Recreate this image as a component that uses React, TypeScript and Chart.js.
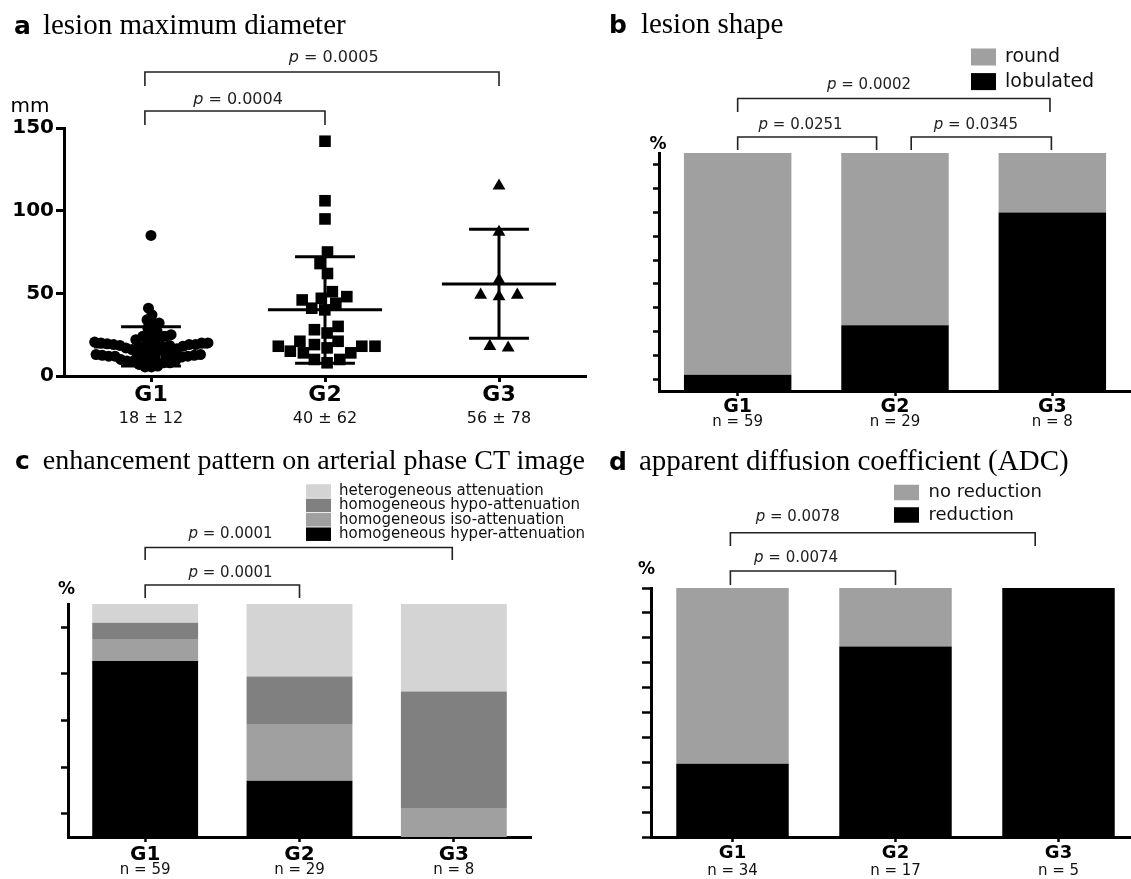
import React, { useEffect, useRef } from 'react';
import { Chart, registerables } from 'chart.js';

Chart.register(...registerables);

const SANS = '"DejaVu Sans", "Liberation Sans", sans-serif';
const SERIF = '"Liberation Serif", "DejaVu Serif", serif';

// ---------------- data ----------------
const groupLabels = ['G1', 'G2', 'G3'];

// (a) lesion maximum diameter (mm)
const diameterG1 = [85, 41, 37, 34, 32, 32, 29, 27, 25, 25, 24, 24, 22, 22, 21, 20.5,
  20, 20, 20, 19.5, 19.5, 19, 19, 19, 18.5, 18.5, 18, 18,
  17.5, 17, 16.5, 16.5, 16, 15.5, 15,
  13.5, 13, 13, 13, 12.5, 12.5, 12.5, 12, 12, 12, 11.5, 11.5, 11,
  10, 10, 9.5, 9, 9, 8, 8, 7, 6, 5.5, 5.5];
const diameterG2 = [142, 106, 95, 75, 68, 62, 51, 48, 47, 46, 44, 41, 40, 30, 28, 26,
  21, 21, 19, 18, 18, 18, 17, 15, 14, 14, 10, 10, 8];
const diameterG3 = [115, 87, 58, 49, 49, 48, 18, 17];
const diameterMean = [17.5, 40, 55.6];
const diameterLow = [6, 7.7, 22.8];
const diameterHigh = [29.8, 72.2, 88.7];
const diameterSummary = ['18 ± 12', '40 ± 62', '56 ± 78'];
const diameterTicks = [0, 50, 100, 150];
const diameterP = ['0.0005', '0.0004'];

// (b) lesion shape (%)
const shapeNames = ['lobulated', 'round'];
const shapeLobulated = [6.8, 27.6, 75];
const shapeRound = [93.2, 72.4, 25];
const shapeN = ['n = 59', 'n = 29', 'n = 8'];
const shapeTicks = [5, 15, 25, 35, 45, 55, 65, 75, 85, 95];
const shapeP = ['0.0002', '0.0251', '0.0345'];

// (c) enhancement pattern (%)
const enhNames = ['homogeneous hyper-attenuation', 'homogeneous iso-attenuation', 'homogeneous hypo-attenuation', 'heterogeneous attenuation'];
const enhHyper = [75.5, 24.1, 0];
const enhIso = [9.5, 24.1, 12.5];
const enhHypo = [7, 20.7, 50];
const enhHetero = [8, 31.1, 37.5];
const enhN = ['n = 59', 'n = 29', 'n = 8'];
const enhTicks = [10, 30, 50, 70, 90];
const enhP = ['0.0001', '0.0001'];

// (d) ADC (%)
const adcNames = ['reduction', 'no reduction'];
const adcReduction = [29.4, 76.5, 100];
const adcNoReduction = [70.6, 23.5, 0];
const adcN = ['n = 34', 'n = 17', 'n = 5'];
const adcTicks = [0, 10, 20, 30, 40, 50, 60, 70, 80, 90, 100];
const adcP = ['0.0078', '0.0074'];

// ---------------- styles / layout ----------------
const BLACK = '#000000';
const GREY = '#a0a0a0';
const GREY_LIGHT = '#d4d4d4';
const GREY_DARK = '#808080';

type Bracket = { from: number; to: number; lineY: number; legY: number; textX: number; textY: number };

// dot-plot layout: spreads points of similar value sideways (pixel space), returns x offsets in group units
function beeswarm(values: number[], pxPerY: number, pxPerX: number, dx: number, dy: number, maxHalf: number): number[] {
  const order = values.map((_, i) => i).sort((a, b) => values[a] - values[b]);
  const placed: { x: number; y: number; i: number }[] = [];
  for (const i of order) {
    const y = values[i] * pxPerY;
    const near = placed.filter((p) => Math.abs(p.y - y) < dy);
    const intervals: [number, number][] = near.map((p) => {
      const r = dx * Math.sqrt(1 - Math.pow((p.y - y) / dy, 2));
      return [p.x - r, p.x + r];
    });
    const left = near.filter((p) => p.x < -1e-6).length;
    const right = near.filter((p) => p.x > 1e-6).length;
    const cands = [0];
    intervals.forEach(([a, b]) => { cands.push(a, b); });
    const key = (c: number) => Math.abs(c) + (c < -1e-6 ? (left > right ? 1e-3 : 0) : c > 1e-6 ? (left > right ? 0 : 1e-3) : 0);
    cands.sort((a, b) => key(a) - key(b));
    let best = 0;
    for (const c of cands) {
      if (!intervals.some(([a, b]) => c > a + 1e-6 && c < b - 1e-6)) { best = c; break; }
    }
    placed.push({ x: best, y, i });
  }
  const px = new Array(values.length).fill(0);
  let chain: typeof placed = [];
  const flush = () => {
    if (!chain.length) return;
    const m = chain.reduce((s, p) => s + p.x, 0) / chain.length;
    chain.forEach((p) => { px[p.i] = p.x - m; });
    chain = [];
  };
  placed.forEach((p, k) => {
    if (k > 0 && p.y - placed[k - 1].y >= dy) flush();
    chain.push(p);
  });
  flush();
  const widest = Math.max(...px.map((v) => Math.abs(v)));
  const f = widest > maxHalf ? maxHalf / widest : 1;
  return px.map((v) => (v * f) / pxPerX);
}

function drawPText(ctx: CanvasRenderingContext2D, cx: number, cy: number, value: string, size: number) {
  ctx.save();
  ctx.fillStyle = '#222';
  ctx.textBaseline = 'middle';
  ctx.textAlign = 'left';
  const italic = `italic ${size}px ${SANS}`;
  const normal = `${size}px ${SANS}`;
  ctx.font = italic;
  const w1 = ctx.measureText('p').width;
  const rest = ' = ' + value;
  ctx.font = normal;
  const w2 = ctx.measureText(rest).width;
  const x0 = cx - (w1 + w2) / 2;
  ctx.font = italic;
  ctx.fillText('p', x0, cy);
  ctx.font = normal;
  ctx.fillText(rest, x0 + w1, cy);
  ctx.restore();
}

function drawBrackets(ctx: CanvasRenderingContext2D, toPx: (u: number) => number, brackets: Bracket[], texts: string[], size: number) {
  ctx.save();
  ctx.strokeStyle = '#222';
  ctx.lineWidth = 1.6;
  brackets.forEach((b, i) => {
    const x1 = toPx(b.from);
    const x2 = toPx(b.to);
    ctx.beginPath();
    ctx.moveTo(x1, b.legY);
    ctx.lineTo(x1, b.lineY);
    ctx.lineTo(x2, b.lineY);
    ctx.lineTo(x2, b.legY);
    ctx.stroke();
    drawPText(ctx, toPx(b.textX), b.textY, texts[i], size);
  });
  ctx.restore();
}

function drawSubLabels(ctx: CanvasRenderingContext2D, toPx: (u: number) => number, labels: string[], y: number, size: number) {
  ctx.save();
  ctx.fillStyle = '#111';
  ctx.font = `${size}px ${SANS}`;
  ctx.textAlign = 'center';
  ctx.textBaseline = 'middle';
  labels.forEach((l, i) => ctx.fillText(l, toPx(i), y));
  ctx.restore();
}

function drawText(ctx: CanvasRenderingContext2D, text: string, x: number, y: number, font: string) {
  ctx.save();
  ctx.fillStyle = '#000';
  ctx.font = font;
  ctx.textAlign = 'center';
  ctx.textBaseline = 'middle';
  ctx.fillText(text, x, y);
  ctx.restore();
}

// ---------------- panel a ----------------
const A_W = 600, A_H = 440;
const A_AREA = { left: 64, right: 586, top: 128, bottom: 376 };
const A_MARKERS = ['circle', 'rect', 'triangle'];
const A_RADII = [5.5, 8.2, 7.4];
const A_SWARM_DX = [9.5, 16, 18.5];
const A_SWARM_DY = [8, 12, 12];
const A_SWARM_MAX = [57, 50, 20];
const MEAN_HALF = 0.328;
const CAP_HALF = 0.172;
const A_BRACKETS: Bracket[] = [
  { from: -0.035, to: 2, lineY: 72, legY: 86, textX: 1.05, textY: 58 },
  { from: -0.035, to: 1, lineY: 111, legY: 125, textX: 0.5, textY: 100 },
];

function buildA(canvas: HTMLCanvasElement) {
  const pxY = (A_AREA.bottom - A_AREA.top) / 150;
  const pxX = (A_AREA.right - A_AREA.left) / 3;
  const series = [diameterG1, diameterG2, diameterG3];
  const datasets = series.map((vals, gi) => {
    const off = beeswarm(vals, pxY, pxX, A_SWARM_DX[gi], A_SWARM_DY[gi], A_SWARM_MAX[gi]);
    return {
      type: 'scatter' as const,
      label: groupLabels[gi],
      data: vals.map((v, i) => ({ x: gi + 1 + off[i], y: v })),
      pointStyle: A_MARKERS[gi],
      pointRadius: A_RADII[gi],
      pointHoverRadius: A_RADII[gi],
      backgroundColor: BLACK,
      borderColor: BLACK,
      borderWidth: 0,
    };
  });
  const plugin = {
    id: 'panelA',
    afterDatasetsDraw(chart: any) {
      const { ctx, scales: { x, y } } = chart;
      ctx.save();
      ctx.strokeStyle = BLACK;
      ctx.lineWidth = 3;
      diameterMean.forEach((m, i) => {
        const cx = x.getPixelForValue(i + 1);
        const hw = x.getPixelForValue(i + 1 + MEAN_HALF) - cx;
        const cw = x.getPixelForValue(i + 1 + CAP_HALF) - cx;
        const ym = y.getPixelForValue(m);
        const yl = y.getPixelForValue(diameterLow[i]);
        const yh = y.getPixelForValue(diameterHigh[i]);
        ctx.beginPath();
        ctx.moveTo(cx - hw, ym); ctx.lineTo(cx + hw, ym);
        ctx.moveTo(cx - cw, yl); ctx.lineTo(cx + cw, yl);
        ctx.moveTo(cx - cw, yh); ctx.lineTo(cx + cw, yh);
        ctx.moveTo(cx, yl); ctx.lineTo(cx, yh);
        ctx.stroke();
      });
      ctx.restore();
    },
    afterDraw(chart: any) {
      const { ctx, scales: { x } } = chart;
      const toPx = (u: number) => x.getPixelForValue(u + 1);
      drawBrackets(ctx, toPx, A_BRACKETS, diameterP, 16);
      drawSubLabels(ctx, toPx, diameterSummary, 419, 16);
      drawText(ctx, 'mm', 30, 107, `20px ${SANS}`);
    },
  };
  return new Chart(canvas, {
    type: 'scatter',
    data: { datasets },
    options: {
      animation: false,
      responsive: false,
      devicePixelRatio: 1,
      layout: { autoPadding: false, padding: { left: 0, right: A_W - A_AREA.right, top: A_AREA.top, bottom: 0 } },
      plugins: { legend: { display: false }, tooltip: { enabled: false } },
      scales: {
        x: {
          type: 'linear', min: 0.5, max: 3.5,
          afterBuildTicks: (s: any) => { s.ticks = groupLabels.map((_, i) => ({ value: i + 1 })); },
          afterFit: (s: any) => { s.height = A_H - A_AREA.bottom; },
          ticks: {
            callback: (v: any) => groupLabels[Math.round(Number(v)) - 1] ?? '',
            font: { family: SANS, size: 22, weight: 'bold' }, color: BLACK, padding: 0,
            maxRotation: 0, autoSkip: false,
          },
          grid: { display: true, drawOnChartArea: false, drawTicks: true, tickLength: 6, tickWidth: 3, tickColor: BLACK },
          border: { display: true, color: BLACK, width: 3 },
        },
        y: {
          type: 'linear', min: 0, max: 150,
          afterBuildTicks: (s: any) => { s.ticks = diameterTicks.map((v) => ({ value: v })); },
          afterFit: (s: any) => { s.width = A_AREA.left; },
          ticks: { font: { family: SANS, size: 20, weight: 'bold' }, color: BLACK, padding: 2 },
          grid: { display: true, drawOnChartArea: false, drawTicks: true, tickLength: 8, tickWidth: 3, tickColor: BLACK },
          border: { display: true, color: BLACK, width: 3 },
        },
      },
    } as any,
    plugins: [plugin],
  });
}

// ---------------- stacked bar panels ----------------
type LegendLayout = { sx: number; sw: number; sh: number; cy0: number; gap: number; tx: number; font: number };
type BarPanel = {
  w: number; h: number;
  area: { left: number; right: number; top: number; bottom: number };
  names: string[]; series: number[][]; colors: string[];
  yTicks: number[]; barPct: number;
  gFont: number; gPad: number; yTickLen: number; xTickLen: number;
  sub: string[]; subY: number; subFont: number;
  brackets: Bracket[]; pTexts: string[]; pFont: number;
  percent: { x: number; y: number; size: number };
  legend: LegendLayout;
};

function buildBar(canvas: HTMLCanvasElement, p: BarPanel) {
  const datasets = p.series.map((data, i) => ({
    label: p.names[i],
    data,
    backgroundColor: p.colors[i],
    borderWidth: 0,
    barPercentage: p.barPct,
    categoryPercentage: 1,
  }));
  const plugin = {
    id: 'barAnno',
    afterDraw(chart: any) {
      const { ctx, scales: { x } } = chart;
      const toPx = (u: number) => x.getPixelForValue(u);
      drawBrackets(ctx, toPx, p.brackets, p.pTexts, p.pFont);
      drawSubLabels(ctx, toPx, p.sub, p.subY, p.subFont);
      drawText(ctx, '%', p.percent.x, p.percent.y, `bold ${p.percent.size}px ${SANS}`);
      const L = p.legend;
      const items = chart.data.datasets.slice().reverse();
      ctx.save();
      items.forEach((ds: any, i: number) => {
        const cy = L.cy0 + i * L.gap;
        ctx.fillStyle = ds.backgroundColor;
        ctx.fillRect(L.sx, cy - L.sh / 2, L.sw, L.sh);
        ctx.fillStyle = '#111';
        ctx.font = `${L.font}px ${SANS}`;
        ctx.textAlign = 'left';
        ctx.textBaseline = 'middle';
        ctx.fillText(ds.label, L.tx, cy);
      });
      ctx.restore();
    },
  };
  return new Chart(canvas, {
    type: 'bar',
    data: { labels: groupLabels, datasets },
    options: {
      animation: false,
      responsive: false,
      devicePixelRatio: 1,
      layout: { autoPadding: false, padding: { left: 0, right: p.w - p.area.right, top: p.area.top, bottom: 0 } },
      plugins: { legend: { display: false }, tooltip: { enabled: false } },
      scales: {
        x: {
          stacked: true,
          afterFit: (s: any) => { s.height = p.h - p.area.bottom; },
          ticks: { font: { family: SANS, size: p.gFont, weight: 'bold' }, color: BLACK, padding: p.gPad, maxRotation: 0, autoSkip: false },
          grid: { display: true, offset: false, drawOnChartArea: false, drawTicks: true, tickLength: p.xTickLen, tickWidth: 2.5, tickColor: BLACK },
          border: { display: true, color: BLACK, width: 3 },
        },
        y: {
          stacked: true, min: 0, max: 100,
          afterBuildTicks: (s: any) => { s.ticks = p.yTicks.map((v) => ({ value: v })); },
          afterFit: (s: any) => { s.width = p.area.left; },
          ticks: { display: false },
          grid: { display: true, drawOnChartArea: false, drawTicks: true, tickLength: p.yTickLen, tickWidth: 2.5, tickColor: BLACK },
          border: { display: true, color: BLACK, width: 3 },
        },
      },
    } as any,
    plugins: [plugin],
  });
}

const PANEL_B: BarPanel = {
  w: 531, h: 440,
  area: { left: 59, right: 531, top: 153, bottom: 391 },
  names: shapeNames, series: [shapeLobulated, shapeRound], colors: [BLACK, GREY],
  yTicks: shapeTicks, barPct: 0.683,
  gFont: 19, gPad: 0, yTickLen: 6, xTickLen: 5,
  sub: shapeN, subY: 422, subFont: 15,
  brackets: [
    { from: 0, to: 1.985, lineY: 98.5, legY: 112, textX: 0.835, textY: 85 },
    { from: 0, to: 0.883, lineY: 137, legY: 150, textX: 0.4, textY: 125 },
    { from: 1.103, to: 1.994, lineY: 137, legY: 150, textX: 1.514, textY: 125 },
  ],
  pTexts: shapeP, pFont: 15,
  percent: { x: 58, y: 145, size: 17 },
  legend: { sx: 371, sw: 25, sh: 17, cy0: 57, gap: 24.6, tx: 405, font: 19 },
};

const PANEL_C: BarPanel = {
  w: 600, h: 439,
  area: { left: 68, right: 531, top: 164, bottom: 397 },
  names: enhNames, series: [enhHyper, enhIso, enhHypo, enhHetero], colors: [BLACK, GREY, GREY_DARK, GREY_LIGHT],
  yTicks: enhTicks, barPct: 0.686,
  gFont: 20, gPad: 1, yTickLen: 7, xTickLen: 5,
  sub: enhN, subY: 430, subFont: 15,
  brackets: [
    { from: 0, to: 1.99, lineY: 107.5, legY: 120, textX: 0.553, textY: 94.5 },
    { from: 0, to: 1.0, lineY: 145, legY: 158, textX: 0.553, textY: 133.5 },
  ],
  pTexts: enhP, pFont: 15,
  percent: { x: 66.5, y: 149.5, size: 17 },
  legend: { sx: 306, sw: 25, sh: 13.5, cy0: 51, gap: 14.4, tx: 339, font: 15 },
};

const PANEL_D: BarPanel = {
  w: 545, h: 439,
  area: { left: 51, right: 540, top: 148, bottom: 397 },
  names: adcNames, series: [adcReduction, adcNoReduction], colors: [BLACK, GREY],
  yTicks: adcTicks, barPct: 0.69,
  gFont: 18, gPad: 1, yTickLen: 9, xTickLen: 5,
  sub: adcN, subY: 431, subFont: 15,
  brackets: [
    { from: -0.013, to: 1.857, lineY: 92.7, legY: 106, textX: 0.4, textY: 77.5 },
    { from: -0.013, to: 1.0, lineY: 131, legY: 145, textX: 0.39, textY: 118.5 },
  ],
  pTexts: adcP, pFont: 15,
  percent: { x: 46.5, y: 130, size: 17 },
  legend: { sx: 294, sw: 25, sh: 15.5, cy0: 52.5, gap: 22.5, tx: 328.5, font: 18 },
};

function ChartCanvas({ left, top, width, height, build }: { left: number; top: number; width: number; height: number; build: (c: HTMLCanvasElement) => Chart }) {
  const ref = useRef<HTMLCanvasElement>(null);
  useEffect(() => {
    const chart = build(ref.current as HTMLCanvasElement);
    return () => chart.destroy();
  }, []);
  return <canvas ref={ref} width={width} height={height} style={{ position: 'absolute', left, top, width, height }} />;
}

function PanelTitle({ left, top, letter, gap, text, size }: { left: number; top: number; letter: string; gap: number; text: string; size: number }) {
  return (
    <div style={{ position: 'absolute', left, top, whiteSpace: 'nowrap', fontFamily: SERIF, fontSize: size, lineHeight: '28px', color: '#000' }}>
      <span style={{ fontFamily: SANS, fontWeight: 'bold', fontSize: 25, lineHeight: '28px', marginRight: gap }}>{letter}</span>
      {text}
    </div>
  );
}

export default function App() {
  return (
    <div style={{ position: 'absolute', left: 0, top: 0, width: 1131, height: 879, overflow: 'hidden', background: '#fff' }}>
      <ChartCanvas left={0} top={0} width={A_W} height={A_H} build={buildA} />
      <ChartCanvas left={600} top={0} width={PANEL_B.w} height={PANEL_B.h} build={(c) => buildBar(c, PANEL_B)} />
      <ChartCanvas left={0} top={440} width={PANEL_C.w} height={PANEL_C.h} build={(c) => buildBar(c, PANEL_C)} />
      <ChartCanvas left={600} top={440} width={PANEL_D.w} height={PANEL_D.h} build={(c) => buildBar(c, PANEL_D)} />
      <PanelTitle left={14} top={10} letter="a" gap={12} text="lesion maximum diameter" size={29} />
      <PanelTitle left={609} top={9} letter="b" gap={14} text="lesion shape" size={29} />
      <PanelTitle left={15} top={446} letter="c" gap={13} text="enhancement pattern on arterial phase CT image" size={28} />
      <PanelTitle left={609} top={446} letter="d" gap={12} text="apparent diffusion coefficient (ADC)" size={29} />
    </div>
  );
}
